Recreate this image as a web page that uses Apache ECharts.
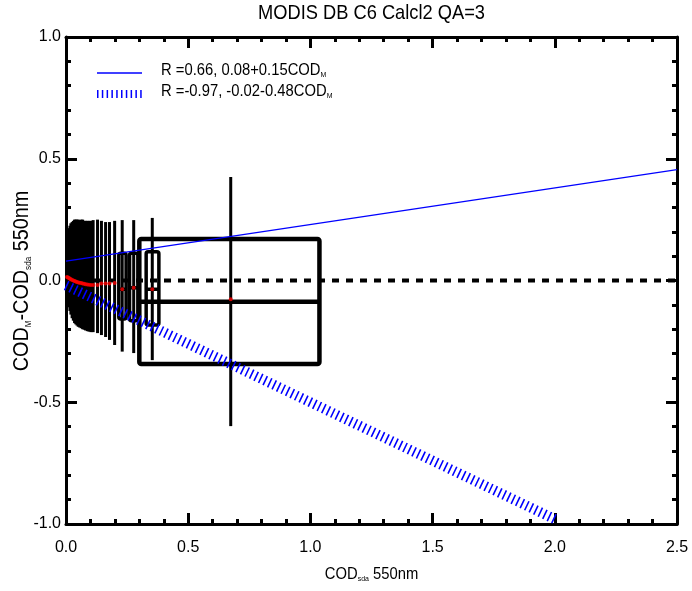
<!DOCTYPE html>
<html>
<head>
<meta charset="utf-8">
<script src="https://cdn.jsdelivr.net/npm/echarts@6/dist/echarts.min.js"></script>
<style>html,body{margin:0;padding:0;background:#fff}#c{width:692px;height:591px}</style>
</head>
<body>
<div id="c"></div>
<script>
// ---- data ----
const xTickLabels = ['0.0', '0.5', '1.0', '1.5', '2.0', '2.5'];
const yTickLabels = ['-1.0', '-0.5', '0.0', '0.5', '1.0'];

// bins: centre, whisker top, whisker bottom, mean
const binX    = [0.004,0.008,0.012,0.016,0.020,0.025,0.030,0.035,0.040,0.045,0.050,0.056,0.062,0.068,0.074,0.080,0.087,0.094,0.102,0.111,0.129,0.145,0.162,0.178,0.199,0.230,0.277,0.353,0.674];
const binHi   = [0.190,0.205,0.215,0.225,0.235,0.240,0.245,0.250,0.250,0.250,0.250,0.248,0.250,0.250,0.245,0.245,0.245,0.245,0.245,0.248,0.250,0.245,0.240,0.240,0.245,0.248,0.248,0.257,0.425];
const binLo   = [-0.080,-0.095,-0.110,-0.125,-0.140,-0.155,-0.165,-0.175,-0.180,-0.185,-0.190,-0.193,-0.196,-0.200,-0.202,-0.205,-0.208,-0.210,-0.212,-0.212,-0.216,-0.224,-0.232,-0.244,-0.265,-0.292,-0.298,-0.327,-0.598];
const binMean = [0.014,0.012,0.010,0.007,0.005,0.002,0.000,-0.002,-0.004,-0.006,-0.008,-0.009,-0.010,-0.012,-0.013,-0.015,-0.016,-0.017,-0.018,-0.018,-0.018,-0.012,-0.012,-0.012,-0.010,-0.036,-0.030,-0.036,-0.077];

// boxes (25-75%) for the wide bins
const boxX    = [0.231, 0.277, 0.354, 0.6685];
const boxHalf = [0.015, 0.017, 0.026, 0.3685];
const boxQ3   = [0.112, 0.112, 0.118, 0.170];
const boxQ1   = [-0.158, -0.165, -0.183, -0.343];
const boxMed  = [-0.036, -0.030, -0.036, -0.087];

// fit lines
const fit1X = [0.0, 2.5];
const fit1Y = fit1X.map(x => 0.08 + 0.15 * x);
const fit2X = [0.0, 2.0];
const fit2Y = fit2X.map(x => -0.02 - 0.48 * x);
const zeroX = [0.0, 2.5];
const zeroY = [0.0, 0.0];

const FONT = '"Liberation Sans", Arial, sans-serif';
const NARROW = 0.87;

const whiskerData = binX.map((x, i) => [x, binLo[i], binHi[i]]);
const boxData = boxX.map((x, i) => [x, boxQ1[i], boxQ3[i], boxMed[i], boxHalf[i]]);
const meanData = binX.map((x, i) => [x, binMean[i]]);

function axisCommon(pos, showLabel) {
  const isX = pos === 'bottom' || pos === 'top';
  return {
    type: 'value', position: pos, min: isX ? 0 : -1, max: isX ? 2.5 : 1, interval: 0.5,
    axisLine: { show: true, onZero: false, lineStyle: { color: '#000', width: 3 } },
    axisTick: { show: true, inside: true, length: 11, lineStyle: { color: '#000', width: 3 } },
    minorTick: { show: true, splitNumber: 5, length: 5, lineStyle: { color: '#000', width: 3 } },
    splitLine: { show: false },
    axisLabel: { show: showLabel, color: '#000', fontFamily: FONT, fontSize: 16 }
  };
}

const xB = axisCommon('bottom', true);
xB.axisLabel.margin = 16;
xB.axisLabel.formatter = v => xTickLabels[Math.round(v / 0.5)];
const xT = axisCommon('top', false);
const yL = axisCommon('left', true);
yL.axisLabel.margin = 5;
yL.axisLabel.formatter = v => yTickLabels[Math.round((v + 1) / 0.5)];
const yR = axisCommon('right', false);

const chart = echarts.init(document.getElementById('c'), null, { renderer: 'canvas' });
chart.setOption({
  animation: false,
  backgroundColor: '#fff',
  grid: { left: 66, right: 15, top: 37, bottom: 67, containLabel: false },
  xAxis: [xB, xT],
  yAxis: [yL, yR],
  series: [
    {
      type: 'custom', xAxisIndex: 0, yAxisIndex: 0, z: 2,
      data: whiskerData,
      renderItem: function (params, api) {
        const x = api.value(0);
        const p1 = api.coord([x, api.value(1)]);
        const p2 = api.coord([x, api.value(2)]);
        return { type: 'line', shape: { x1: p1[0], y1: p1[1], x2: p2[0], y2: p2[1] },
                 style: { stroke: '#000', lineWidth: 3 } };
      }
    },
    {
      type: 'custom', xAxisIndex: 0, yAxisIndex: 0, z: 3,
      data: boxData,
      renderItem: function (params, api) {
        const x = api.value(0), q1 = api.value(1), q3 = api.value(2), med = api.value(3), h = api.value(4);
        const a = api.coord([x - h, q3]);
        const b = api.coord([x + h, q1]);
        const m1 = api.coord([x - h, med]);
        const m2 = api.coord([x + h, med]);
        const lw = h > 0.1 ? 4.5 : 3.5;
        return { type: 'group', children: [
          { type: 'rect', shape: { x: a[0], y: a[1], width: b[0] - a[0], height: b[1] - a[1], r: 2 },
            style: { fill: 'none', stroke: '#000', lineWidth: lw, lineJoin: 'round' } },
          { type: 'line', shape: { x1: m1[0], y1: m1[1], x2: m2[0], y2: m2[1] },
            style: { stroke: '#000', lineWidth: lw } }
        ] };
      }
    },
    {
      type: 'line', z: 4, symbol: 'none', silent: true,
      data: zeroX.map((x, i) => [x, zeroY[i]]),
      lineStyle: { color: '#000', width: 4, type: [7, 7] }
    },
    {
      type: 'line', z: 5, symbol: 'none', silent: true,
      data: fit1X.map((x, i) => [x, fit1Y[i]]),
      lineStyle: { color: '#0000ff', width: 1.3 }
    },
    {
      type: 'line', z: 5, symbol: 'none', silent: true, clip: false,
      data: fit2X.map((x, i) => [x, fit2Y[i]]),
      lineStyle: { color: '#0000ff', width: 10, type: [1.6, 3.4], cap: 'butt' }
    },
    {
      type: 'scatter', z: 6, symbol: 'circle', symbolSize: 4,
      itemStyle: { color: '#ff0000' },
      data: meanData
    }
  ],
  graphic: [
    { type: 'text', x: 371.5, y: 13, scaleX: NARROW, style: { text: 'MODIS DB C6 Calcl2 QA=3', fill: '#000',
      font: '21px ' + FONT, textAlign: 'center', textVerticalAlign: 'middle' } },
    { type: 'line', shape: { x1: 97, y1: 73, x2: 142, y2: 73 }, style: { stroke: '#0000ff', lineWidth: 1.3 } },
    { type: 'line', shape: { x1: 97, y1: 94, x2: 142, y2: 94 },
      style: { stroke: '#0000ff', lineWidth: 8, lineDash: [1.5, 3.3] } },
    { type: 'text', x: 161, y: 70, scaleX: NARROW, style: {
      text: '{a|R =0.66, 0.08+0.15COD}{s|M}', textVerticalAlign: 'middle',
      rich: { a: { fontFamily: FONT, fontSize: 17, color: '#000' },
              s: { fontFamily: FONT, fontSize: 8, color: '#000', verticalAlign: 'bottom' } } } },
    { type: 'text', x: 161, y: 91, scaleX: NARROW, style: {
      text: '{a|R =-0.97, -0.02-0.48COD}{s|M}', textVerticalAlign: 'middle',
      rich: { a: { fontFamily: FONT, fontSize: 17, color: '#000' },
              s: { fontFamily: FONT, fontSize: 8, color: '#000', verticalAlign: 'bottom' } } } },
    { type: 'text', x: 371.5, y: 574, scaleX: NARROW, style: {
      text: '{a|COD}{s|sda}{a| 550nm}', textAlign: 'center', textVerticalAlign: 'middle',
      rich: { a: { fontFamily: FONT, fontSize: 17, color: '#000' },
              s: { fontFamily: FONT, fontSize: 8, color: '#000', verticalAlign: 'bottom' } } } },
    { type: 'text', x: 22, y: 281, rotation: Math.PI / 2, scaleX: 0.9, style: {
      text: '{a|COD}{s|M}{a|-COD}{s|sda}{a| 550nm}', textAlign: 'center', textVerticalAlign: 'middle',
      rich: { a: { fontFamily: FONT, fontSize: 22, color: '#000' },
              s: { fontFamily: FONT, fontSize: 9, color: '#000', verticalAlign: 'bottom' } } } }
  ]
});
</script>
</body>
</html>
